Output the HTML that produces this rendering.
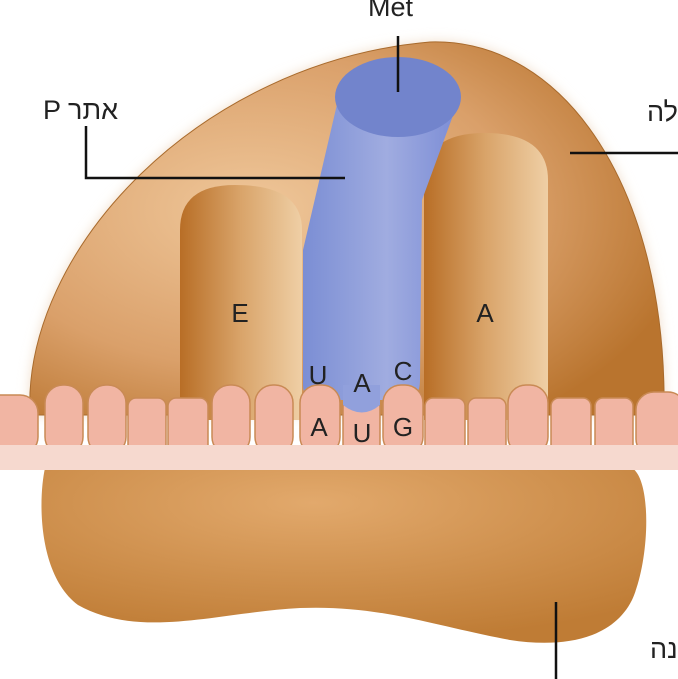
<!DOCTYPE html>
<html><head><meta charset="utf-8"><style>
html,body{margin:0;padding:0;background:#fff;width:678px;height:679px;overflow:hidden;position:relative}
.t{position:absolute;font-family:"Liberation Sans","Noto Sans CJK SC",sans-serif;font-size:27px;color:#222;white-space:nowrap;line-height:1}
.o{unicode-bidi:bidi-override;direction:ltr}
</style></head><body>
<svg width="678" height="679" style="position:absolute;left:0;top:0">
<defs>
<radialGradient id="big" cx="0.35" cy="0.45" r="0.7">
<stop offset="0" stop-color="#efc79a"/><stop offset="0.6" stop-color="#daa06a"/><stop offset="1" stop-color="#b9742e"/></radialGradient>
<radialGradient id="small" cx="0.45" cy="0.2" r="0.8">
<stop offset="0" stop-color="#e2a96c"/><stop offset="1" stop-color="#bf7c35"/></radialGradient>
<linearGradient id="tube" x1="0" x2="1">
<stop offset="0" stop-color="#b86e26"/><stop offset="0.5" stop-color="#d9a46a"/><stop offset="1" stop-color="#efcfa5"/></linearGradient>
<linearGradient id="blue" x1="0" x2="1">
<stop offset="0" stop-color="#7b8ed4"/><stop offset="0.55" stop-color="#a0ace0"/><stop offset="1" stop-color="#7d8ed6"/></linearGradient>
<filter id="glow" x="-10%" y="-10%" width="120%" height="120%"><feGaussianBlur stdDeviation="6"/></filter>
</defs>
<path d="M30,415 C22,250 200,62 430,42 C565,38 668,190 664,415 Z" fill="#f0dcc6" filter="url(#glow)"/>
<path d="M30,415 C22,250 200,62 430,42 C565,38 668,190 664,415 Z" fill="url(#big)" stroke="#a86a2c" stroke-width="1"/>
<path d="M45,468 L632,468 C652,480 650,560 632,600 C612,640 562,648 510,640 C430,625 380,605 300,608 C220,612 140,640 78,605 C38,575 38,500 45,468 Z" fill="url(#small)"/>
<path d="M180,420 L180,230 Q180,185 235,185 Q302,185 302,230 L302,420 Z" fill="url(#tube)"/>
<path d="M424,420 L424,180 Q424,133 485,133 Q548,133 548,180 L548,420 Z" fill="url(#tube)"/>
<path d="M338,100 L303,250 L303,385 Q303,400 320,400 L350,400 Q365,415 380,400 L410,400 Q420,395 420,380 L422,200 L455,110 Z" fill="url(#blue)"/>
<ellipse cx="398" cy="97" rx="63" ry="40" fill="#7284cc"/>
<g fill="#f1b5a3" stroke="#c98a55" stroke-width="1.5">
<rect x="-20" y="395" width="58" height="60" rx="18"/>
<rect x="45" y="385" width="38" height="70" rx="18"/>
<rect x="88" y="385" width="38" height="70" rx="18"/>
<rect x="128" y="398" width="38" height="60" rx="8"/>
<rect x="168" y="398" width="40" height="60" rx="8"/>
<rect x="212" y="385" width="38" height="70" rx="18"/>
<rect x="255" y="385" width="38" height="70" rx="18"/>
<rect x="300" y="385" width="40" height="70" rx="18"/>
<rect x="383" y="385" width="40" height="70" rx="18"/>
<rect x="425" y="398" width="40" height="60" rx="8"/>
<rect x="468" y="398" width="38" height="60" rx="8"/>
<rect x="508" y="385" width="40" height="70" rx="18"/>
<rect x="551" y="398" width="40" height="60" rx="8"/>
<rect x="595" y="398" width="38" height="60" rx="8"/>
<rect x="636" y="392" width="50" height="65" rx="18"/>
</g>
<path d="M343,405 L380,405 L380,455 L343,455 Z" fill="#f1b5a3" stroke="#c98a55" stroke-width="1.5"/>
<path d="M343,385 L380,385 L380,405 Q362,420 343,405 Z" fill="#91a0dc"/>
<rect x="0" y="445" width="678" height="25" fill="#f6d9cf"/>
<g stroke="#111" stroke-width="2.5" fill="none">
<line x1="398" y1="36" x2="398" y2="92"/>
<polyline points="86,126 86,178 345,178"/>
<line x1="570" y1="153" x2="678" y2="153"/>
<line x1="556" y1="602" x2="556" y2="679"/>
</g>
<g font-family="Liberation Sans,sans-serif" font-size="26" fill="#222" text-anchor="middle">
<text x="240" y="322">E</text><text x="485" y="322">A</text>
<text x="318" y="384">U</text><text x="362" y="392">A</text><text x="403" y="380">C</text>
<text x="319" y="436">A</text><text x="362" y="442">U</text><text x="403" y="436">G</text>
</g>
</svg>
<div class="t" style="left:368px;top:-6px">Met</div>
<div class="t" style="left:43px;top:97px">P אתר</div>
<div class="t" style="left:647px;top:99px">גדולה</div>
<div class="t o" style="left:650px;top:636px">הנ</div>
</body></html>
